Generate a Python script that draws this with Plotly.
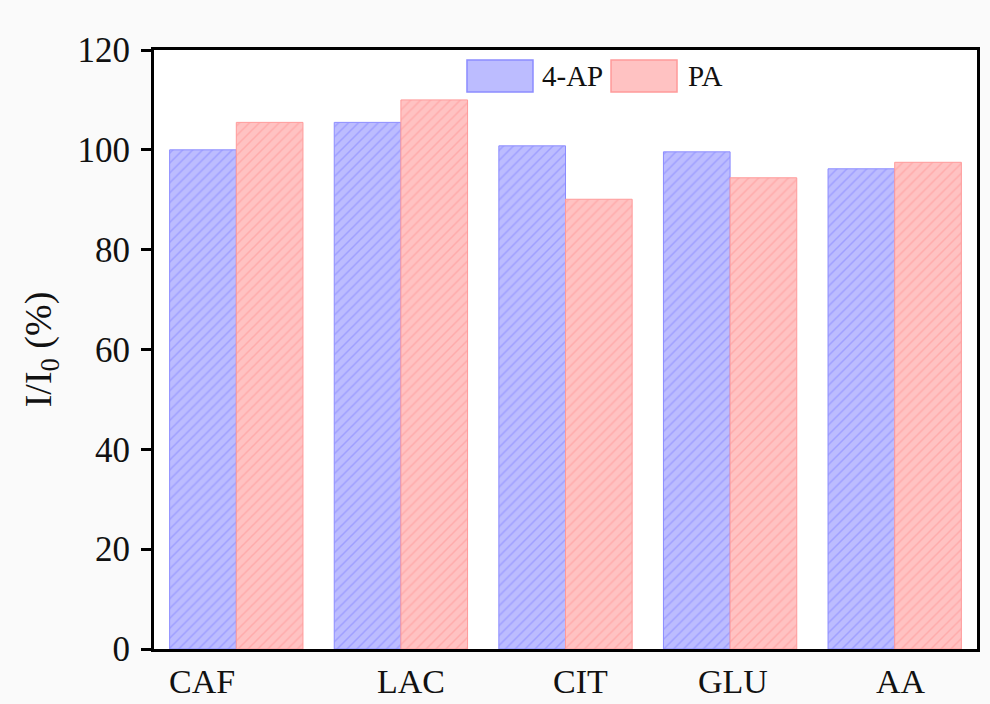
import plotly.graph_objects as go

# Interference study: relative response I/I0 (%) per interferent
categories = ["CAF", "LAC", "CIT", "GLU", "AA"]
ap4_values = [100.0, 105.5, 100.8, 99.6, 96.2]
pa_values = [105.5, 110.0, 90.1, 94.4, 97.5]
series_names = ["4-AP", "PA"]
y_ticks = [0, 20, 40, 60, 80, 100, 120]

# horizontal nudge of each category label (in category units)
label_shift = [-0.21, 0.06, 0.09, 0.02, 0.04]

FONT = "Liberation Serif"
BLUE_FILL, BLUE_LINE, BLUE_EDGE = "#bcbcff", "#8282ff", "#8c8cff"
RED_FILL, RED_LINE, RED_EDGE = "#ffc2c2", "#ff9494", "#ff9a9a"

fig = go.Figure()

for name, vals, fill, line, edge in [
    (series_names[0], ap4_values, BLUE_FILL, BLUE_LINE, BLUE_EDGE),
    (series_names[1], pa_values, RED_FILL, RED_LINE, RED_EDGE),
]:
    fig.add_trace(go.Bar(
        x=categories, y=vals, name=name,
        marker=dict(
            color=fill,
            line=dict(color=edge, width=1),
            pattern=dict(shape="/", fgcolor=line, bgcolor=fill,
                         size=7, solidity=0.22, fillmode="overlay"),
        ),
        showlegend=False,
    ))

# Legend: swatch boxes with labels inside the frame
legend_items = [
    (series_names[0], BLUE_FILL, BLUE_EDGE, 0.3803, 0.4605, 0.469),
    (series_names[1], RED_FILL, RED_EDGE, 0.5553, 0.6355, 0.6464),
]
for label, fill, edge, x0, x1, tx in legend_items:
    fig.add_shape(
        type="rect", xref="paper", yref="paper",
        x0=x0, x1=x1, y0=0.9299, y1=0.9833,
        fillcolor=fill, line=dict(color=edge, width=1.5), layer="above",
    )
    fig.add_annotation(
        xref="paper", yref="paper", x=tx, y=0.9566,
        xanchor="left", yanchor="middle",
        text=label, showarrow=False,
        font=dict(family=FONT, size=29, color="#111111"),
    )

# Category labels under the axis
for i, (cat, dx) in enumerate(zip(categories, label_shift)):
    fig.add_annotation(
        xref="x", yref="paper", x=i + dx, y=-0.055,
        xanchor="center", yanchor="middle",
        text=cat, showarrow=False,
        font=dict(family=FONT, size=34, color="#111111"),
    )

fig.update_layout(
    width=990, height=704,
    margin=dict(l=154, r=13, t=50, b=55, pad=0),
    paper_bgcolor="#fafafa",
    plot_bgcolor="#ffffff",
    barmode="group",
    bargap=0.19,
    bargroupgap=0,
    font=dict(family=FONT, color="#111111"),
)

fig.update_xaxes(
    type="category",
    range=[-0.5, 4.5],
    automargin=False,
    showline=True, linecolor="#000000", linewidth=3, mirror=True,
    ticks="", showgrid=False, zeroline=False,
    showticklabels=False,
)

fig.update_yaxes(
    range=[0, 120],
    automargin=False,
    tickvals=y_ticks,
    ticktext=[str(v) for v in y_ticks],
    showline=True, linecolor="#000000", linewidth=3, mirror=True,
    ticks="outside", ticklen=10, tickwidth=3, tickcolor="#000000",
    showgrid=False, zeroline=False,
    tickfont=dict(family=FONT, size=35, color="#111111"),
    ticklabelstandoff=4,
    title=dict(text="I/I<sub>0</sub> (%)", font=dict(family=FONT, size=38, color="#111111")),
)

fig.write_html("out.html")
